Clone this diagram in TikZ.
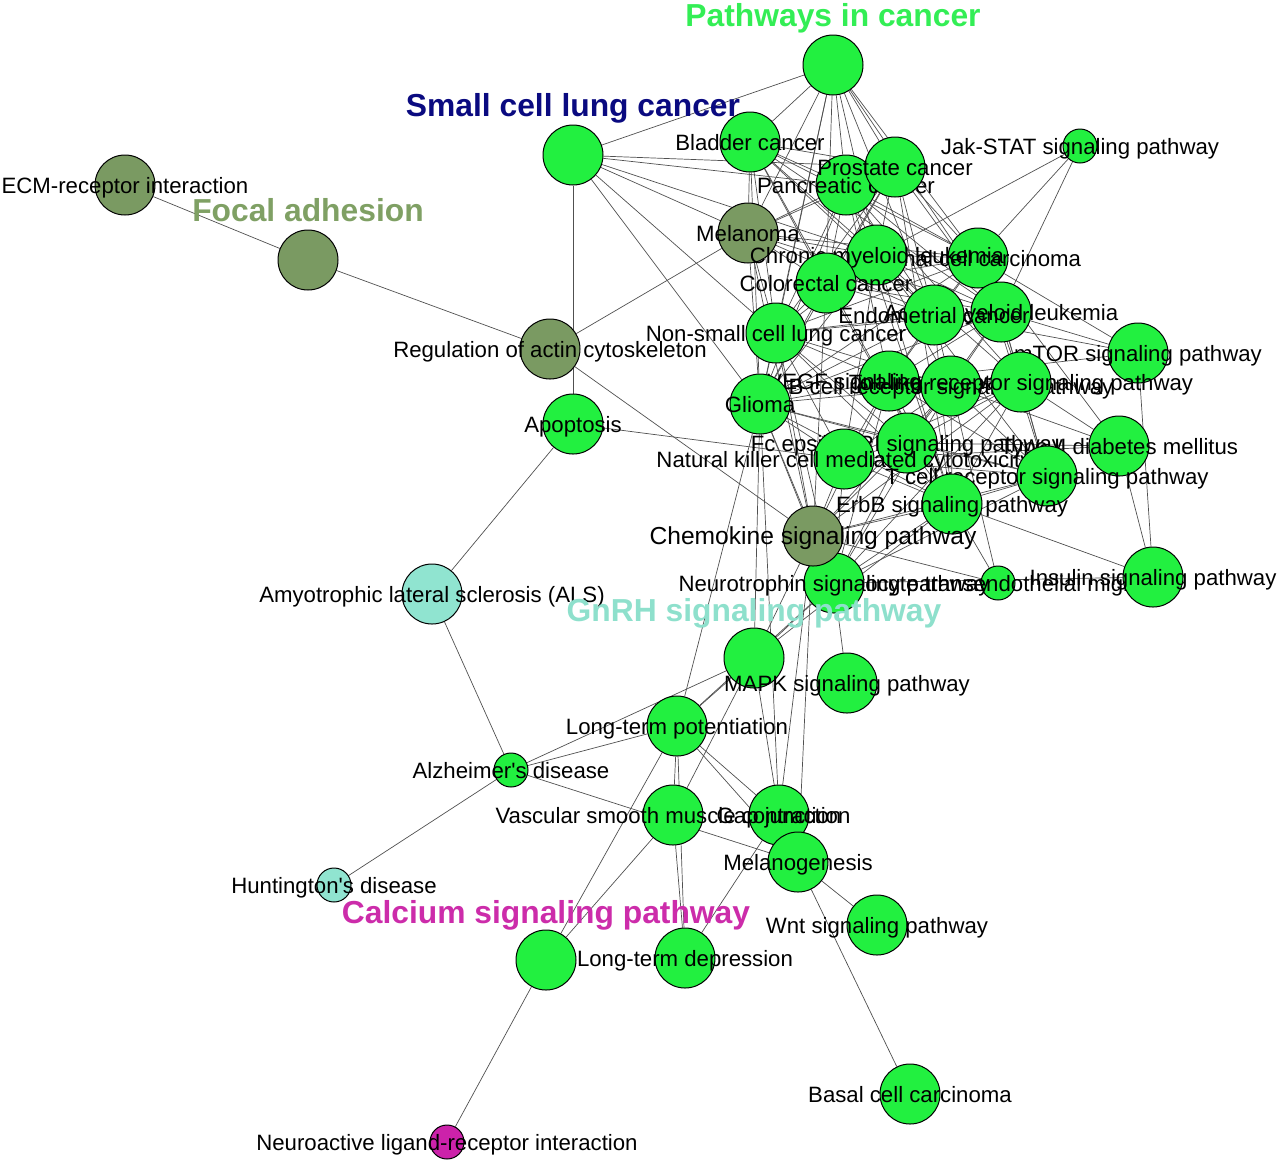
\documentclass[tikz,border=0pt]{standalone}
\usepackage{fontspec}
\setmainfont{Liberation Sans}
\definecolor{nodegreen}{RGB}{34,240,64}
\definecolor{olivegreen}{RGB}{122,154,98}
\definecolor{aquagreen}{RGB}{144,228,208}
\definecolor{ligandpink}{RGB}{204,34,170}
\definecolor{edgegray}{RGB}{80,80,80}
\definecolor{cancergreen}{RGB}{51,238,85}
\definecolor{lungnavy}{RGB}{10,10,128}
\definecolor{focalgreen}{RGB}{127,160,100}
\definecolor{gnrhaqua}{RGB}{142,224,204}
\definecolor{calciumpink}{RGB}{204,44,170}
\pgfdeclarelayer{edges}
\pgfsetlayers{edges,main}

\begin{document}
\begin{tikzpicture}[
x=0.5pt, y=-0.5pt,
every label/.style={font=\fontsize{11.1pt}{13pt}\selectfont, inner sep=0pt, text height=8pt, text depth=0pt},
pathnode/.style={circle, draw=black, line width=0.5pt, inner sep=0pt, minimum size=30pt, fill=nodegreen},
smallnode/.style={pathnode, minimum size=17pt},
olivenode/.style={pathnode, fill=olivegreen},
aquanode/.style={pathnode, fill=aquagreen},
link/.style={draw=edgegray, line width=0.35pt},
grouplabel/.style={font=\fontsize{15.9pt}{18pt}\selectfont\bfseries, inner sep=0pt, anchor=base}
]

    \useasboundingbox (0,0) rectangle (1280,1164);

    % Pathway nodes (later ones cover earlier labels)
    \node[olivenode, label={center:ECM-receptor interaction}] (ecm) at (125,185) {};
    \node[olivenode] (focal) at (308,260) {};
    \node[pathnode] (pic) at (833,65) {};
    \node[pathnode] (sclc) at (573,155) {};
    \node[pathnode, label={center:Bladder cancer}] (bladder) at (750,142) {};
    \node[smallnode, label={center:Jak-STAT signaling pathway}] (jak) at (1080,146) {};
    \node[pathnode, label={center:Pancreatic cancer}] (pancreatic) at (846,185) {};
    \node[pathnode, label={center:Prostate cancer}] (prostate) at (895,167) {};
    \node[olivenode, label={center:Melanoma}] (melanoma) at (748,233) {};
    \node[pathnode, label={center:Renal cell carcinoma}] (renal) at (978,258) {};
    \node[pathnode, label={center:Chronic myeloid leukemia}] (cml) at (877,255) {};
    \node[pathnode, label={center:Colorectal cancer}] (colorectal) at (826,283) {};
    \node[pathnode, label={center:Acute myeloid leukemia}] (aml) at (1001,312) {};
    \node[pathnode, label={center:Endometrial cancer}] (endometrial) at (934,315) {};
    \node[pathnode, label={center:Non-small cell lung cancer}] (nsclc) at (776,333) {};
    \node[olivenode, label={center:Regulation of actin cytoskeleton}] (regul) at (550,349) {};
    \node[pathnode, label={center:mTOR signaling pathway}] (mtor) at (1138,353) {};
    \node[pathnode, label={center:VEGF signaling pathway}] (vegf) at (889,381) {};
    \node[pathnode, label={center:B cell receptor signaling pathway}] (bcell) at (951,386) {};
    \node[pathnode, label={center:Toll-like receptor signaling pathway}] (toll) at (1021,382) {};
    \node[pathnode, label={center:Glioma}] (glioma) at (760,404) {};
    \node[pathnode, label={center:Apoptosis}] (apoptosis) at (573,424) {};
    \node[pathnode, label={center:Fc epsilon RI signaling pathway}] (fceps) at (907,443) {};
    \node[pathnode, label={center:Type II diabetes mellitus}] (t2d) at (1119,446) {};
    \node[pathnode, label={center:Natural killer cell mediated cytotoxicity}] (nk) at (844,459) {};
    \node[pathnode, label={center:T cell receptor signaling pathway}] (tcell) at (1047,476) {};
    \node[pathnode, label={center:ErbB signaling pathway}] (erbb) at (952,504) {};
    \node[smallnode, label={center:Leukocyte transendothelial migration}] (leuko) at (998,583) {};
    \node[pathnode, label={center:Insulin signaling pathway}] (insulin) at (1153,577) {};
    \node[pathnode, label={center:Neurotrophin signaling pathway}] (neurotrophin) at (834,583) {};
    \node[olivenode, label={[font=\fontsize{12.3pt}{14pt}\selectfont]center:Chemokine signaling pathway}] (chemokine) at (813,536) {};
    \node[aquanode, label={center:Amyotrophic lateral sclerosis (ALS)}] (als) at (432,594) {};
    \node[pathnode] (gnrh) at (754,658) {};
    \node[pathnode, label={center:MAPK signaling pathway}] (mapk) at (847,683) {};
    \node[pathnode, label={center:Long-term potentiation}] (ltp) at (677,726) {};
    \node[smallnode, label={center:Alzheimer\textquotesingle s disease}] (alz) at (511,770) {};
    \node[pathnode, label={center:Gap junction}] (gap) at (779,815) {};
    \node[pathnode, label={center:Vascular smooth muscle contraction}] (vsmc) at (673,815) {};
    \node[pathnode, label={center:Melanogenesis}] (melanogen) at (798,862) {};
    \node[smallnode, fill=aquagreen, label={center:Huntington\textquotesingle s disease}] (huntington) at (334,885) {};
    \node[pathnode, label={center:Wnt signaling pathway}] (wnt) at (877,925) {};
    \node[pathnode] (calcium) at (546,960) {};
    \node[pathnode, label={center:Long-term depression}] (ltd) at (685,958) {};
    \node[pathnode, label={center:Basal cell carcinoma}] (basal) at (910,1094) {};
    \node[smallnode, fill=ligandpink, label={center:Neuroactive ligand-receptor interaction}] (neuro) at (447,1142) {};

    % Cluster labels
    \node[grouplabel, text=cancergreen] (piclabel) at ([yshift=19.5pt]pic.center) {Pathways in cancer};
    \node[grouplabel, text=lungnavy] (sclclabel) at ([yshift=19.5pt]sclc.center) {Small cell lung cancer};
    \node[grouplabel, text=focalgreen] (focallabel) at ([yshift=19.5pt]focal.center) {Focal adhesion};
    \node[grouplabel, text=gnrhaqua] (gnrhlabel) at ([yshift=18.5pt]gnrh.center) {GnRH signaling pathway};
    \node[grouplabel, text=calciumpink] (calciumlabel) at ([yshift=18.5pt]calcium.center) {Calcium signaling pathway};

    % Shared-gene links
    \begin{pgfonlayer}{edges}
    % cancer pathways
    \foreach \a [count=\i] in {pic,bladder,prostate,pancreatic,melanoma,cml,renal,colorectal,endometrial,aml,nsclc,glioma}
        \foreach \b [count=\j] in {pic,bladder,prostate,pancreatic,melanoma,cml,renal,colorectal,endometrial,aml,nsclc,glioma}
            {\ifnum\j>\i \draw[link] (\a) -- (\b); \fi}

    % signaling pathways
    \foreach \a [count=\i] in {vegf,bcell,toll,fceps,nk,tcell,chemokine,erbb,neurotrophin}
        \foreach \b [count=\j] in {vegf,bcell,toll,fceps,nk,tcell,chemokine,erbb,neurotrophin}
            {\ifnum\j>\i \draw[link] (\a) -- (\b); \fi}

    % everything else
    \foreach \a/\others in {
        erbb/{bladder,prostate,pancreatic,cml,colorectal,endometrial,nsclc,glioma,gnrh,leuko,insulin},
        vegf/{pancreatic,renal,nsclc,glioma,aml,endometrial,mtor},
        bcell/{cml,aml,glioma,nsclc,endometrial,leuko,t2d},
        toll/{cml,aml,renal,pancreatic,t2d},
        fceps/{glioma,nsclc,aml,t2d},
        tcell/{glioma,aml,cml,renal},
        nk/{glioma,nsclc,cml,apoptosis,t2d},
        chemokine/{glioma,nsclc,melanoma,colorectal,regul,leuko,gnrh,gap,melanogen},
        neurotrophin/{glioma,nsclc,insulin,gnrh,mapk,ltp},
        mtor/{renal,aml,endometrial,insulin},
        jak/{cml,renal,aml},
        t2d/{insulin,renal},
        sclc/{pic,prostate,pancreatic,melanoma,cml,nsclc,glioma,apoptosis},
        regul/{focal,melanoma},
        ecm/{focal},
        apoptosis/{als},
        alz/{als,huntington,ltp,gnrh,melanogen},
        gnrh/{glioma,ltp,vsmc,gap},
        glioma/{ltp,gap},
        ltp/{vsmc,ltd,gap,melanogen,calcium},
        vsmc/{calcium,ltd},
        gap/{ltd,melanogen},
        melanogen/{wnt,basal},
        calcium/{neuro}}
        \foreach \b in \others
            \draw[link] (\a) -- (\b);
    \end{pgfonlayer}

\end{tikzpicture}
\end{document}
